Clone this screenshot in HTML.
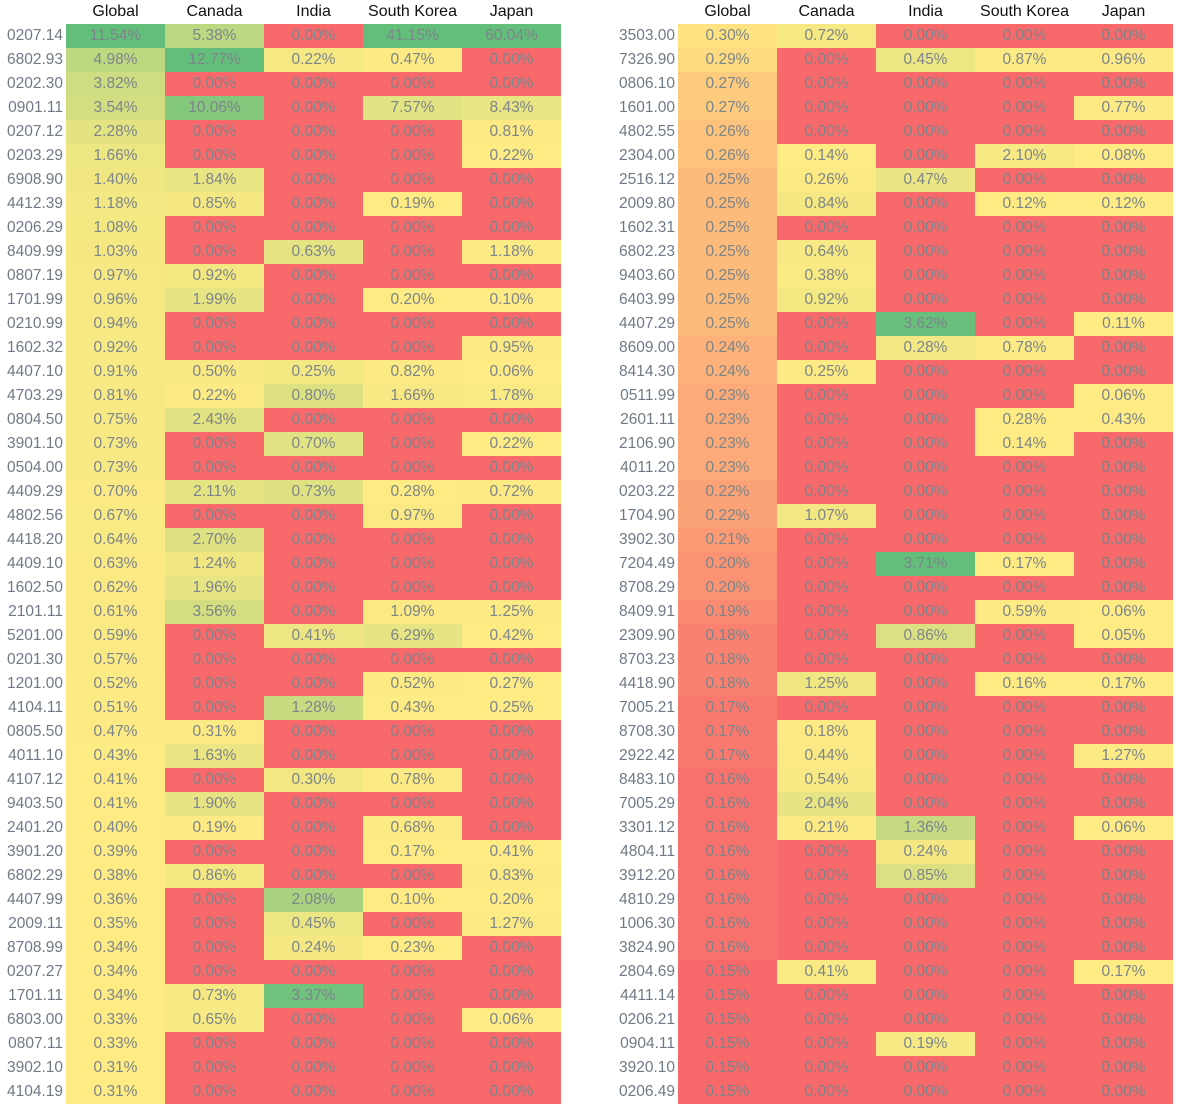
<!DOCTYPE html>
<html><head><meta charset="utf-8"><style>
body{margin:0;background:#fff;width:1179px;height:1109px;overflow:hidden;font-family:"Liberation Sans",sans-serif;position:relative}
.h{position:absolute;top:0;height:24px;line-height:24px;font-size:16px;color:#111;text-align:center}
.l{position:absolute;height:24px;line-height:24px;font-size:15.5px;color:#6f7a86;text-align:right}
.c{position:absolute;height:24px;line-height:24px;font-size:15.5px;color:#7c8589;text-align:center}
</style></head><body>
<script>
const countries=["Global","Canada","India","South Korea","Japan"];
const codesLeft=["0207.14","6802.93","0202.30","0901.11","0207.12","0203.29","6908.90","4412.39","0206.29","8409.99","0807.19","1701.99","0210.99","1602.32","4407.10","4703.29","0804.50","3901.10","0504.00","4409.29","4802.56","4418.20","4409.10","1602.50","2101.11","5201.00","0201.30","1201.00","4104.11","0805.50","4011.10","4107.12","9403.50","2401.20","3901.20","6802.29","4407.99","2009.11","8708.99","0207.27","1701.11","6803.00","0807.11","3902.10","4104.19"];
const globalLeft=[11.54,4.98,3.82,3.54,2.28,1.66,1.40,1.18,1.08,1.03,0.97,0.96,0.94,0.92,0.91,0.81,0.75,0.73,0.73,0.70,0.67,0.64,0.63,0.62,0.61,0.59,0.57,0.52,0.51,0.47,0.43,0.41,0.41,0.40,0.39,0.38,0.36,0.35,0.34,0.34,0.34,0.33,0.33,0.31,0.31];
const canadaLeft=[5.38,12.77,0,10.06,0,0,1.84,0.85,0,0,0.92,1.99,0,0,0.50,0.22,2.43,0,0,2.11,0,2.70,1.24,1.96,3.56,0,0,0,0,0.31,1.63,0,1.90,0.19,0,0.86,0,0,0,0,0.73,0.65,0,0,0];
const indiaLeft=[0,0.22,0,0,0,0,0,0,0,0.63,0,0,0,0,0.25,0.80,0,0.70,0,0.73,0,0,0,0,0,0.41,0,0,1.28,0,0,0.30,0,0,0,0,2.08,0.45,0.24,0,3.37,0,0,0,0];
const koreaLeft=[41.15,0.47,0,7.57,0,0,0,0.19,0,0,0,0.20,0,0,0.82,1.66,0,0,0,0.28,0.97,0,0,0,1.09,6.29,0,0.52,0.43,0,0,0.78,0,0.68,0.17,0,0.10,0,0.23,0,0,0,0,0,0];
const japanLeft=[60.04,0,0,8.43,0.81,0.22,0,0,0,1.18,0,0.10,0,0.95,0.06,1.78,0,0.22,0,0.72,0,0,0,0,1.25,0.42,0,0.27,0.25,0,0,0,0,0,0.41,0.83,0.20,1.27,0,0,0,0.06,0,0,0];
const codesRight=["3503.00","7326.90","0806.10","1601.00","4802.55","2304.00","2516.12","2009.80","1602.31","6802.23","9403.60","6403.99","4407.29","8609.00","8414.30","0511.99","2601.11","2106.90","4011.20","0203.22","1704.90","3902.30","7204.49","8708.29","8409.91","2309.90","8703.23","4418.90","7005.21","8708.30","2922.42","8483.10","7005.29","3301.12","4804.11","3912.20","4810.29","1006.30","3824.90","2804.69","4411.14","0206.21","0904.11","3920.10","0206.49"];
const globalRight=[0.30,0.29,0.27,0.27,0.26,0.26,0.25,0.25,0.25,0.25,0.25,0.25,0.25,0.24,0.24,0.23,0.23,0.23,0.23,0.22,0.22,0.21,0.20,0.20,0.19,0.18,0.18,0.18,0.17,0.17,0.17,0.16,0.16,0.16,0.16,0.16,0.16,0.16,0.16,0.15,0.15,0.15,0.15,0.15,0.15];
const canadaRight=[0.72,0,0,0,0,0.14,0.26,0.84,0,0.64,0.38,0.92,0,0,0.25,0,0,0,0,0,1.07,0,0,0,0,0,0,1.25,0,0.18,0.44,0.54,2.04,0.21,0,0,0,0,0,0.41,0,0,0,0,0];
const indiaRight=[0,0.45,0,0,0,0,0.47,0,0,0,0,0,3.62,0.28,0,0,0,0,0,0,0,0,3.71,0,0,0.86,0,0,0,0,0,0,0,1.36,0.24,0.85,0,0,0,0,0,0,0.19,0,0];
const koreaRight=[0,0.87,0,0,0,2.10,0,0.12,0,0,0,0,0,0.78,0,0,0.28,0.14,0,0,0,0,0.17,0,0.59,0,0,0.16,0,0,0,0,0,0,0,0,0,0,0,0,0,0,0,0,0];
const japanRight=[0,0.96,0,0.77,0,0.08,0,0.12,0,0,0,0,0.11,0,0,0.06,0.43,0,0,0,0,0,0,0,0.06,0.05,0,0.17,0,0,1.27,0,0,0.06,0,0,0,0,0,0.17,0,0,0,0,0];

const R=[248,105,107],Y=[255,235,132],G=[99,190,123];
function mix(a,b,t){t=Math.max(0,Math.min(1,t));return 'rgb('+a.map((v,i)=>Math.round(v+(b[i]-v)*t)).join(',')+')';}
function scale(vals){
  const mn=Math.min(...vals),mx=Math.max(...vals);
  const s=vals.slice().sort((a,b)=>a-b);const mid=s[Math.floor(s.length/2)];
  return v=>{ if(mid<=mn){return v<=mn?mix(R,Y,0):mix(Y,G,(v-mn)/(mx-mn));}
    return v<=mid?mix(R,Y,(v-mn)/(mid-mn)):mix(Y,G,(v-mid)/(mx-mid));};
}
const cols=[[globalLeft,globalRight],[canadaLeft,canadaRight],[indiaLeft,indiaRight],[koreaLeft,koreaRight],[japanLeft,japanRight]];
const scales=cols.map(c=>scale(c[0].concat(c[1])));
const tables=[{codes:codesLeft,side:0,x0:66,lx:0,lw:63},{codes:codesRight,side:1,x0:678,lx:612,lw:63}];
const CW=99,RH=24,TOP=24;
tables.forEach(t=>{
  countries.forEach((n,j)=>{
    const h=document.createElement('div');h.className='h';
    h.style.left=(t.x0+j*CW)+'px';h.style.width=CW+'px';h.textContent=n;
    
    
    document.body.appendChild(h);
  });
  t.codes.forEach((code,i)=>{
    const l=document.createElement('div');l.className='l';
    l.style.left=t.lx+'px';l.style.width=t.lw+'px';l.style.top=(TOP+i*RH)+'px';l.textContent=code;
    
    
    document.body.appendChild(l);
    cols.forEach((c,j)=>{
      const v=c[t.side][i];
      const d=document.createElement('div');d.className='c';
      d.style.left=(t.x0+j*CW)+'px';d.style.width=CW+'px';d.style.top=(TOP+i*RH)+'px';
      d.style.background=scales[j](v);d.textContent=v.toFixed(2)+'%';
      
      
      document.body.appendChild(d);
    });
  });
});
</script>
</body></html>
